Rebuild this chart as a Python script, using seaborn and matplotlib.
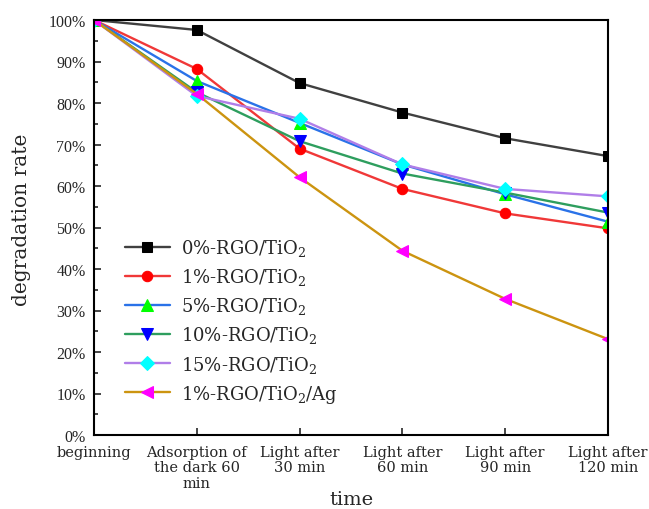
import matplotlib
matplotlib.use("Agg")
import matplotlib.pyplot as plt
import seaborn as sns
import pandas as pd
from matplotlib.ticker import MultipleLocator, FuncFormatter

stages = ["beginning", "Adsorption of\nthe dark 60\nmin", "Light after\n30 min",
          "Light after\n60 min", "Light after\n90 min", "Light after\n120 min"]

s0 = [100, 97.6, 84.8, 77.7, 71.5, 67.2]
s1 = [100, 88.2, 69.0, 59.3, 53.4, 49.8]
s5 = [100, 85.3, 75.2, 65.2, 58.0, 51.4]
s10 = [100, 82.6, 70.8, 63.0, 58.4, 53.6]
s15 = [100, 81.7, 76.2, 65.2, 59.3, 57.5]
sag = [100, 82.2, 62.1, 44.4, 32.8, 23.1]

labels = ["0%-RGO/TiO$_2$", "1%-RGO/TiO$_2$", "5%-RGO/TiO$_2$",
          "10%-RGO/TiO$_2$", "15%-RGO/TiO$_2$", "1%-RGO/TiO$_2$/Ag"]
series = [s0, s1, s5, s10, s15, sag]
line_colors = ["#404040", "#f03838", "#2a72e8", "#2e9e5e", "#b07ee8", "#cc9410"]
marker_colors = ["#000000", "#ff0000", "#00ff00", "#0000ff", "#00ffff", "#ff00ff"]
markers = ["s", "o", "^", "v", "D", "<"]
msizes = [6.5, 7.5, 8, 8, 7.5, 8]

rows = []
for lab, vals in zip(labels, series):
    for i, v in enumerate(vals):
        rows.append({"series": lab, "x": i, "y": v})
df = pd.DataFrame(rows)

sns.set_style("ticks")
plt.rcParams["font.family"] = ["DejaVu Serif"]
plt.rcParams["mathtext.fontset"] = "dejavuserif"

fig = plt.figure(figsize=(6.49, 5.10), dpi=100)
ax = fig.add_axes([94/649, 1 - 436/510, (608-94)/649, (436-21)/510])

for lab, lc, mc, mk, ms in zip(labels, line_colors, marker_colors, markers, msizes):
    sub = df[df["series"] == lab]
    sns.lineplot(data=sub, x="x", y="y", ax=ax, color=lc, marker=mk,
                 markersize=ms, markerfacecolor=mc, markeredgecolor=mc,
                 linewidth=1.7, label=lab, estimator=None)

ax.set_xlim(0, 5)
ax.set_ylim(0, 100)
ax.set_xticks(range(len(stages)))
ax.set_xticklabels(stages, fontsize=10.5, linespacing=1.15)
ax.yaxis.set_major_locator(MultipleLocator(10))
ax.yaxis.set_minor_locator(MultipleLocator(5))
ax.yaxis.set_major_formatter(FuncFormatter(lambda v, p: f"{int(v)}%"))
ax.tick_params(axis="y", which="both", direction="in", pad=6)
ax.tick_params(axis="y", which="major", length=5, width=1.2)
ax.tick_params(axis="y", which="minor", length=3, width=1.2)
ax.tick_params(axis="x", direction="in", length=5, width=1.2, pad=7)
for t in ax.get_yticklabels():
    t.set_fontfamily("Liberation Serif")
    t.set_fontsize(11.5)
for sp in ax.spines.values():
    sp.set_visible(True)
    sp.set_linewidth(1.5)
    sp.set_color("black")

ax.set_xlabel("time", fontsize=14, labelpad=0)
ax.set_ylabel("degradation rate", fontsize=14.5)
ax.yaxis.set_label_coords(-0.122, 0.52)

leg = ax.legend(loc="upper left", bbox_to_anchor=(0.06, 0.477), frameon=False,
                borderaxespad=0, borderpad=0,
                fontsize=13, handlelength=2.5, labelspacing=0.45, handletextpad=0.6)

fig.savefig("out.png", dpi=100)
